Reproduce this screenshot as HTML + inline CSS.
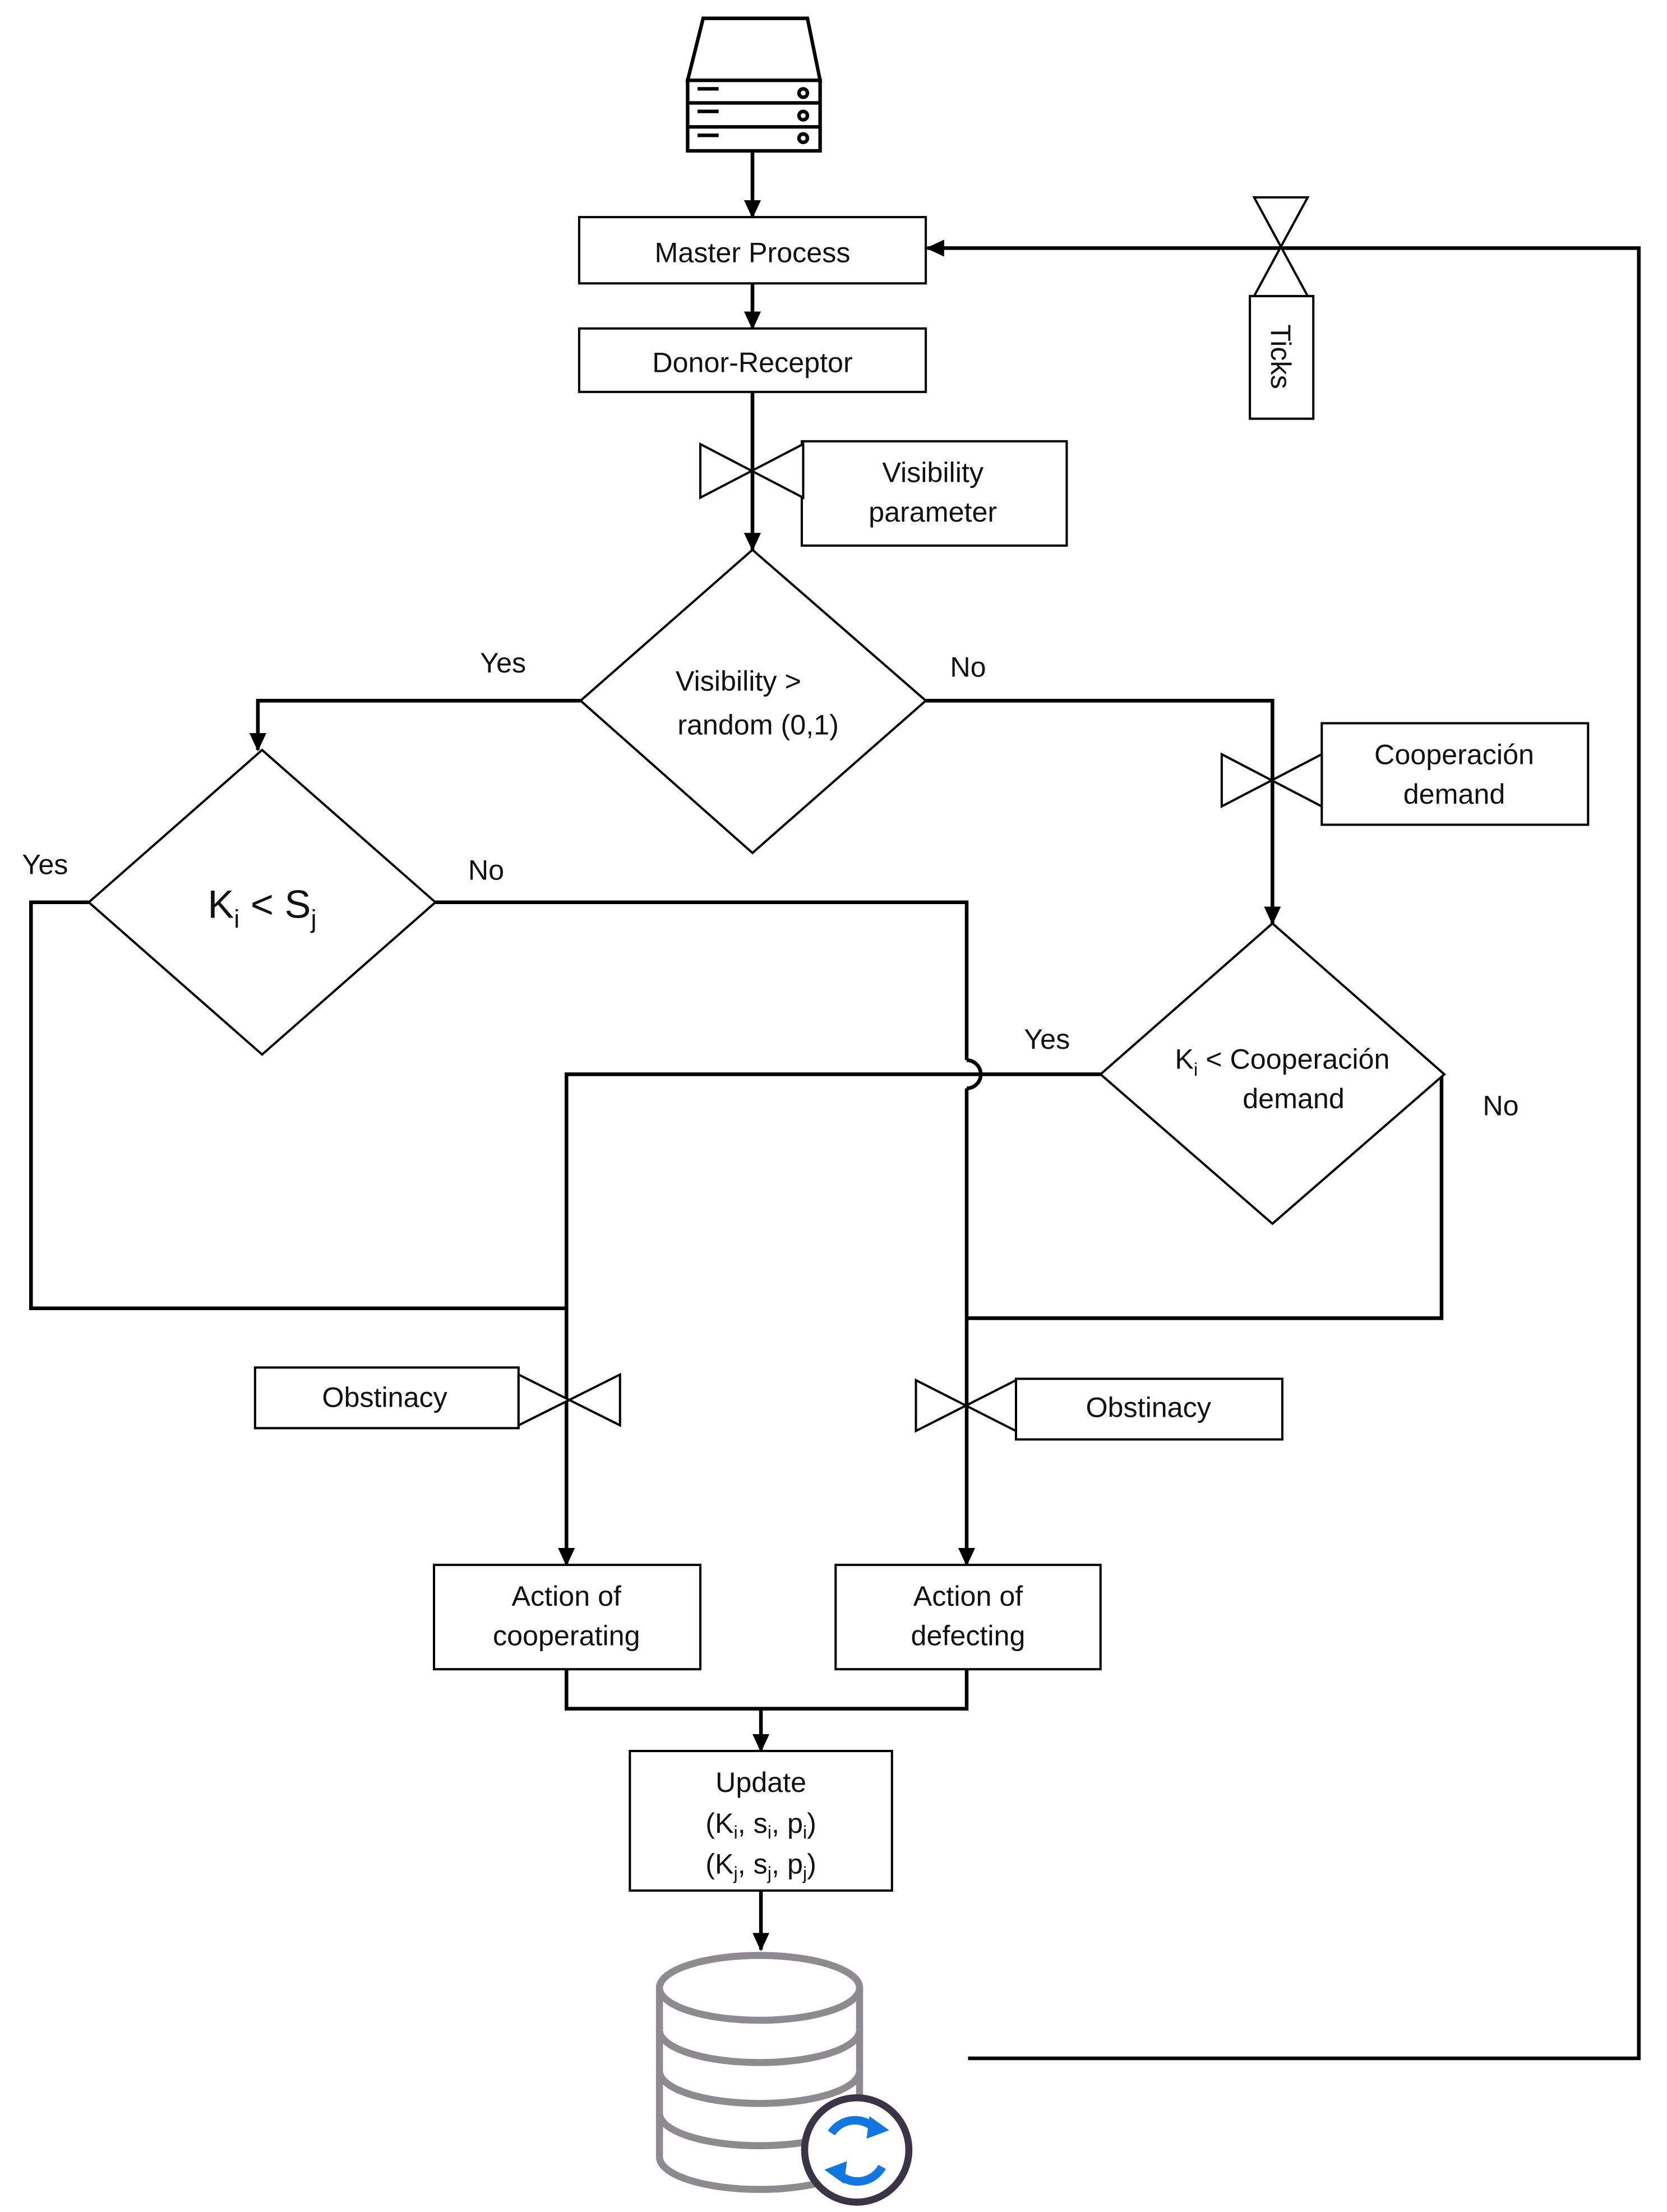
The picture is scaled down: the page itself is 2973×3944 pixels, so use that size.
<!DOCTYPE html>
<html><head><meta charset="utf-8"><style>
html,body{margin:0;padding:0;background:#fff;}
svg{display:block;}
text{font-family:"Liberation Sans",sans-serif;fill:#111;}
</style></head><body>
<svg width="2973" height="3944" viewBox="0 0 1183 1569" preserveAspectRatio="none" xmlns="http://www.w3.org/2000/svg">
<defs>
<marker id="ar" markerWidth="13" markerHeight="12" refX="12" refY="6" orient="auto" markerUnits="userSpaceOnUse">
<path d="M0,0 L13,6 L0,12 Z" fill="#000"/>
</marker>
</defs>
<g fill="none" stroke="#000">
<g stroke-width="2.5" fill="#fff">
<path d="M499,13 L573,13 L582,57 L488,57 Z"/>
<rect x="488" y="57" width="94" height="50"/>
<line x1="488" y1="73" x2="582" y2="73"/>
<line x1="488" y1="90" x2="582" y2="90"/>
</g>
<g stroke-width="2.5">
<line x1="495" y1="63" x2="510" y2="63"/><line x1="495" y1="79" x2="510" y2="79"/><line x1="495" y1="96" x2="510" y2="96"/>
<circle cx="570" cy="66" r="3"/><circle cx="570" cy="82" r="3"/><circle cx="570" cy="98" r="3"/>
</g>
<g stroke-width="2.6">
<line x1="534" y1="107" x2="534" y2="154" marker-end="url(#ar)"/>
<line x1="534" y1="201" x2="534" y2="233" marker-end="url(#ar)"/>
<line x1="534" y1="278" x2="534" y2="390" marker-end="url(#ar)"/>
<polyline points="412,497 183,497 183,532" marker-end="url(#ar)"/>
<polyline points="657,497 903,497 903,655" marker-end="url(#ar)"/>
<polyline points="63,640 22,640 22,928 402,928"/>
<polyline points="309,640 686,640 686,752"/>
<path d="M686,752 A10,10 0 0 1 686,772"/>
<line x1="686" y1="772" x2="686" y2="1110" marker-end="url(#ar)"/>
<polyline points="781,762 402,762 402,1110" marker-end="url(#ar)"/>
<polyline points="1023,762 1023,935 686,935"/>
<polyline points="402,1184 402,1212 686,1212 686,1184"/>
<line x1="540" y1="1212" x2="540" y2="1242" marker-end="url(#ar)"/>
<line x1="540" y1="1341" x2="540" y2="1383" marker-end="url(#ar)"/>
<polyline points="687,1460 1163,1460 1163,176 658,176" marker-end="url(#ar)"/>
</g>
<g stroke-width="1.6" fill="#fff">
<rect x="411" y="154" width="246" height="47"/>
<rect x="411" y="233" width="246" height="45"/>
<rect x="569" y="313" width="188" height="74"/>
<rect x="938" y="513" width="189" height="72"/>
<rect x="181" y="970" width="187" height="43"/>
<rect x="721" y="978" width="189" height="43"/>
<rect x="308" y="1110" width="189" height="74"/>
<rect x="593" y="1110" width="188" height="74"/>
<rect x="447" y="1242" width="186" height="99"/>
<rect x="887" y="210" width="45" height="87"/>
<polygon points="534,390 657,497 534,605 412,497"/>
<polygon points="186,532 309,640 186,748 63,640"/>
<polygon points="903,655 1025,762 903,868 781,762"/>
<path d="M497,315 L570,353 L570,315 L497,353 Z"/>
<path d="M867,535 L938,572 L938,535 L867,572 Z"/>
<path d="M368,975 L440,1011 L440,975 L368,1011 Z"/>
<path d="M650,979 L721,1015 L721,979 L650,1015 Z"/>
<path d="M890,140 L928,210 L890,210 L928,140 Z"/>
</g>
<g stroke="#8d8b90" stroke-width="5" fill="#fff">
<path d="M468,1410 L468,1530 A71,23 0 0 0 610,1530 L610,1410"/>
<ellipse cx="539" cy="1410" rx="71" ry="23"/>
<path d="M468,1440 A71,23 0 0 0 610,1440"/>
<path d="M468,1469 A71,23 0 0 0 610,1469"/>
<path d="M468,1499 A71,23 0 0 0 610,1499"/>
</g>
<circle cx="608" cy="1525" r="37" fill="#fff" stroke="#3b3346" stroke-width="5"/>
<g stroke="#1277e0" stroke-width="6">
<path d="M590,1513 A20,20 0 0 1 622,1511"/>
<path d="M626,1537 A20,20 0 0 1 593,1540"/>
</g>
</g>
<path d="M617,1501 L631,1511 L615,1517 Z" fill="#1277e0"/>
<path d="M599,1549 L585,1539 L601,1533 Z" fill="#1277e0"/>
<g font-size="20" text-anchor="middle">
<text x="534" y="186">Master Process</text>
<text x="534" y="264">Donor-Receptor</text>
<text x="662" y="342">Visibility</text>
<text x="662" y="370">parameter</text>
<text x="524" y="490">Visibility &gt;</text>
<text x="538" y="521">random (0,1)</text>
<text x="1032" y="542">Cooperación</text>
<text x="1032" y="570">demand</text>
<text x="910" y="758">K<tspan font-size="13" dy="5">i</tspan><tspan dy="-5"> &lt; Cooperación</tspan></text>
<text x="918" y="786">demand</text>
<text x="273" y="998">Obstinacy</text>
<text x="815" y="1005">Obstinacy</text>
<text x="402" y="1139">Action of</text>
<text x="402" y="1167">cooperating</text>
<text x="687" y="1139">Action of</text>
<text x="687" y="1167">defecting</text>
<text x="540" y="1271">Update</text>
<text x="540" y="1300">(K<tspan font-size="13" dy="4">i</tspan><tspan dy="-4">, s</tspan><tspan font-size="13" dy="4">i</tspan><tspan dy="-4">, p</tspan><tspan font-size="13" dy="4">i</tspan><tspan dy="-4">)</tspan></text>
<text x="540" y="1329">(K<tspan font-size="13" dy="4">j</tspan><tspan dy="-4">, s</tspan><tspan font-size="13" dy="4">j</tspan><tspan dy="-4">, p</tspan><tspan font-size="13" dy="4">j</tspan><tspan dy="-4">)</tspan></text>
<text x="357" y="477">Yes</text>
<text x="687" y="480">No</text>
<text x="32" y="620">Yes</text>
<text x="345" y="624">No</text>
<text x="743" y="744">Yes</text>
<text x="1065" y="791">No</text>
<text x="0" y="0" transform="translate(902,253) rotate(90)">Ticks</text>
</g>
<text x="186" y="651" font-size="28" text-anchor="middle">K<tspan font-size="18" dy="7">i</tspan><tspan dy="-7"> &lt; S</tspan><tspan font-size="18" dy="7">j</tspan></text>
</svg>
</body></html>
